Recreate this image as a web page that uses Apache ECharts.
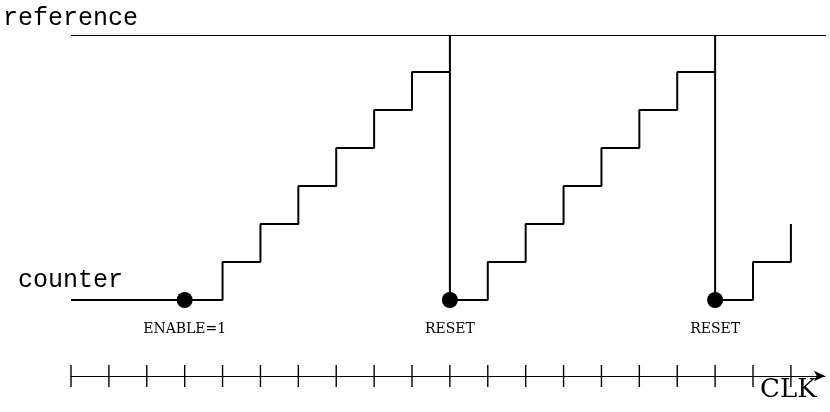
<!DOCTYPE html>
<html>
<head>
<meta charset="utf-8">
<script src="https://cdn.jsdelivr.net/npm/echarts@6/dist/echarts.min.js"></script>
<style>
  html, body { margin: 0; padding: 0; background: #fff; }
  #chart { width: 830px; height: 412px; }
</style>
</head>
<body>
<div id="chart"></div>
<script>
var clk = [0, 1, 2, 3, 4, 5, 6, 7, 8, 9, 10, 11, 12, 13, 14, 15, 16, 17, 18, 19];
var counter = [0, 0, 0, 0, 1, 2, 3, 4, 5, 6, 0, 1, 2, 3, 4, 5, 6, 0, 1, 2];
var refLevel = 6.96;
var eventClk = [3, 10, 17];
var eventLabels = ['ENABLE=1', 'RESET', 'RESET'];
var clkAxisLevel = -2;

// counter steps, with a spike up to the reference on every reset
var counterData = [];
for (var i = 0; i < clk.length; i++) {
  if (i > 0 && counter[i] < counter[i - 1]) {
    counterData.push([clk[i], refLevel]);
  }
  counterData.push([clk[i], counter[i]]);
}

var eventData = [];
for (var j = 0; j < eventClk.length; j++) {
  eventData.push({ value: [eventClk[j], 0], label: { formatter: eventLabels[j] } });
}

// clock ticks cross the CLK axis on both sides
var tickData = [];
for (var k = 0; k < clk.length; k++) {
  tickData.push([clk[k], clkAxisLevel]);
}

var chart = echarts.init(document.getElementById('chart'));

var option = {
  backgroundColor: '#fff',
  animation: false,
  grid: { left: 71, right: 5, top: 34, bottom: 36 },
  xAxis: {
    type: 'value',
    min: 0,
    max: 19.9,
    interval: 1,
    position: 'bottom',
    axisLine: {
      onZero: false,
      symbol: ['none', 'arrow'],
      symbolSize: [8, 11],
      lineStyle: { color: '#000', width: 1 }
    },
    axisTick: { show: false },
    axisLabel: { show: false },
    splitLine: { show: false }
  },
  yAxis: {
    type: 'value',
    min: clkAxisLevel,
    max: 7,
    show: false
  },
  series: [
    {
      name: 'reference',
      type: 'line',
      clip: false,
      symbol: 'none',
      data: [[0, refLevel], [20, refLevel]],
      lineStyle: { color: '#000', width: 1 }
    },
    {
      name: 'counter',
      type: 'line',
      step: 'end',
      symbol: 'none',
      clip: false,
      data: counterData,
      lineStyle: { color: '#000', width: 2 }
    },
    {
      name: 'clk ticks',
      type: 'scatter',
      symbol: 'rect',
      symbolSize: [1.4, 22],
      clip: false,
      silent: true,
      itemStyle: { color: '#000', opacity: 1 },
      data: tickData
    },
    {
      name: 'events',
      type: 'scatter',
      symbolSize: 16,
      itemStyle: { color: '#000', opacity: 1 },
      data: eventData,
      label: {
        show: true,
        position: 'bottom',
        distance: 14,
        color: '#000',
        fontFamily: 'DejaVu Serif',
        fontSize: 14
      }
    }
  ],
  graphic: [
    {
      type: 'text',
      left: 3,
      top: 6,
      style: { text: 'reference', fontFamily: 'Liberation Mono', fontSize: 25, fill: '#000' }
    },
    {
      type: 'text',
      left: 18,
      top: 268,
      style: { text: 'counter', fontFamily: 'Liberation Mono', fontSize: 25, fill: '#000' }
    },
    {
      type: 'text',
      left: 760,
      top: 377,
      style: { text: 'CLK', fontFamily: 'DejaVu Serif', fontSize: 26, fill: '#000' }
    }
  ]
};

chart.setOption(option);
</script>
</body>
</html>
